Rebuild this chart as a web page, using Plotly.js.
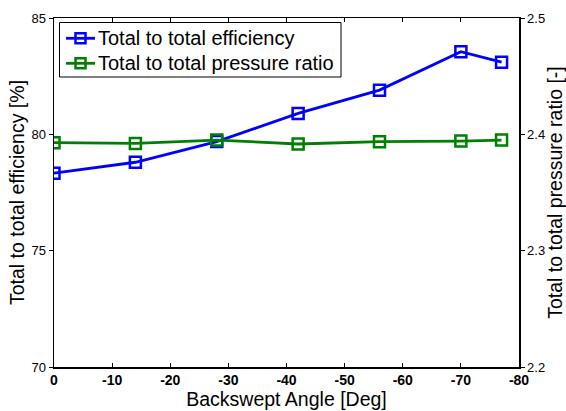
<!DOCTYPE html>
<html><head><meta charset="utf-8">
<script src="https://cdn.plot.ly/plotly-3.0.1.min.js"></script>
<style>html,body{margin:0;padding:0;background:#fff}#c{width:566px;height:411px}</style>
</head><body><div id="c"></div>
<script>
const angles = [0, -14, -28, -42, -56, -70, -77];
const efficiency = [78.33, 78.8, 79.69, 80.9, 81.9, 83.55, 83.1];
const pressureRatio = [2.3928, 2.3922, 2.3951, 2.3917, 2.3937, 2.3942, 2.3951];
const xTicks = [0, -10, -20, -30, -40, -50, -60, -70, -80];
const seriesNames = ['Total to total efficiency', 'Total to total pressure ratio'];
const seriesColors = ['#0000ff', '#008000'];

const font = '"Liberation Sans", Arial, sans-serif';
const W = 566, H = 411, M = {l: 54, r: 47, t: 18, b: 44};
const pw = W - M.l - M.r, ph = H - M.t - M.b;
const px = x => (x - M.l) / pw;          // pixel -> paper x
const py = y => 1 - (y - M.t) / ph;      // pixel -> paper y

const traces = [
  {x: angles, y: efficiency, name: seriesNames[0], type: 'scatter', mode: 'lines+markers',
   line: {color: seriesColors[0], width: 2.8}, marker: {symbol: 'square-open', size: 11, color: seriesColors[0], line: {width: 2.5}}},
  {x: angles, y: pressureRatio, name: seriesNames[1], type: 'scatter', mode: 'lines+markers', yaxis: 'y2',
   line: {color: seriesColors[1], width: 2.8}, marker: {symbol: 'square-open', size: 11, color: seriesColors[1], line: {width: 2.5}}}
];

// Hand-built legend (box, line samples, square samples, labels)
const shapes = [{type: 'rect', xref: 'paper', yref: 'paper', x0: px(59.5), x1: px(341), y0: py(22.5), y1: py(77),
                 line: {color: '#000', width: 1}, fillcolor: '#fff', layer: 'above'}];
const annotations = [];
const rowY = [38.3, 63.3];
seriesNames.forEach((n, i) => {
  const y = rowY[i];
  shapes.push({type: 'line', xref: 'paper', yref: 'paper', x0: px(66), x1: px(95), y0: py(y), y1: py(y),
               line: {color: seriesColors[i], width: 2.8}, layer: 'above'});
  shapes.push({type: 'rect', xref: 'paper', yref: 'paper', x0: px(75.5), x1: px(85.5), y0: py(y - 5), y1: py(y + 5),
               line: {color: seriesColors[i], width: 2.5}, fillcolor: 'rgba(0,0,0,0)', layer: 'above'});
  annotations.push({xref: 'paper', yref: 'paper', x: px(96), y: py(y), xanchor: 'left', yanchor: 'middle',
                    text: n, showarrow: false, font: {size: 20, family: font, color: '#000'}});
});

const layout = {
  width: W, height: H, margin: M,
  paper_bgcolor: '#fff', plot_bgcolor: '#fff',
  font: {family: font, color: '#000'},
  showlegend: false, shapes, annotations,
  xaxis: {range: [0, -80], tickvals: xTicks, ticktext: xTicks.map(String), showgrid: false, zeroline: false,
          showline: true, linecolor: '#000', linewidth: 1.5, mirror: 'ticks', ticks: 'inside', ticklen: 4, tickcolor: '#000',
          tickfont: {size: 14, weight: 'bold', family: font},
          title: {text: 'Backswept Angle [Deg]', font: {size: 19.5, family: font}, standoff: 1}},
  yaxis: {range: [70, 85], tickvals: [70, 75, 80, 85], showgrid: false, zeroline: false,
          showline: true, linecolor: '#000', linewidth: 1.5, ticks: 'outside', ticklen: 4, tickcolor: '#000',
          tickfont: {size: 13, family: font},
          title: {text: 'Total to total efficiency [%]', font: {size: 19.5, family: font}, standoff: 1}},
  yaxis2: {range: [2.2, 2.5], tickvals: [2.2, 2.3, 2.4, 2.5], ticktext: ['2.2', '2.3', '2.4', '2.5'], overlaying: 'y', side: 'right',
           showgrid: false, zeroline: false, showline: true, linecolor: '#000', linewidth: 1.5, ticks: 'outside', ticklen: 4, tickcolor: '#000',
           tickfont: {size: 13, family: font},
           title: {text: 'Total to total pressure ratio [-]', font: {size: 19.5, family: font}, standoff: 3}}
};
Plotly.newPlot('c', traces, layout, {displayModeBar: false, staticPlot: true});
</script></body></html>
